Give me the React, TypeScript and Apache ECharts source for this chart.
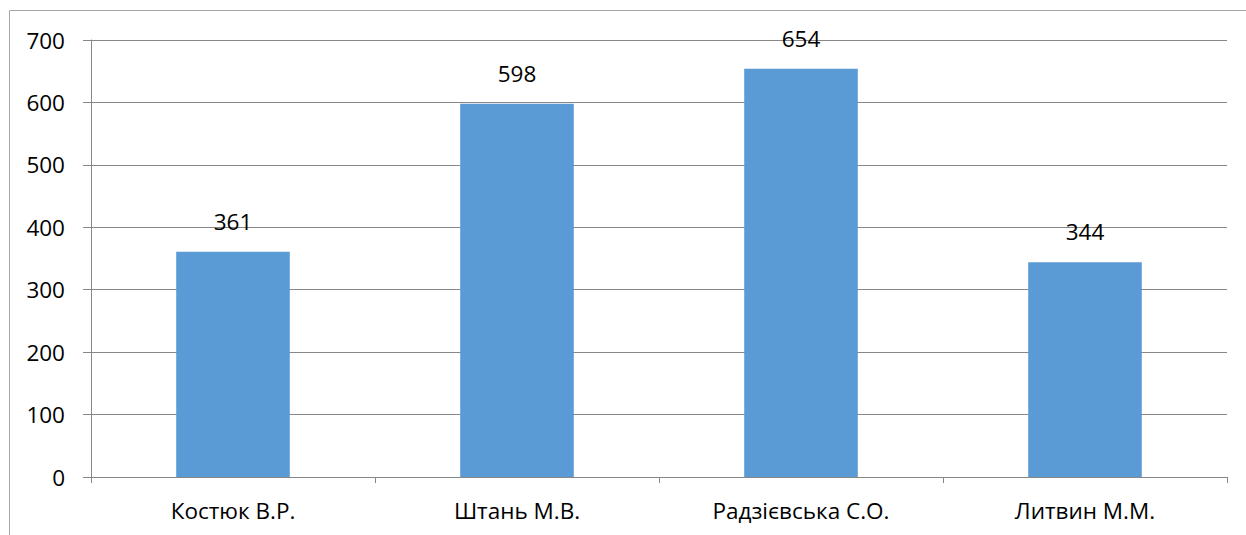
import React, { useEffect, useRef } from "react";
import * as echarts from "echarts";

const categories = ["Костюк В.Р.", "Штань М.В.", "Радзієвська С.О.", "Литвин М.М."];
const values = [361, 598, 654, 344];
const yTicks = { min: 0, max: 700, interval: 100 };

const FONT = "Open Sans";
const FS = 22.5;

export default function App() {
  const ref = useRef<HTMLDivElement>(null);
  useEffect(() => {
    const chart = echarts.init(ref.current!, null, { renderer: "svg" });
    chart.setOption({
      animation: false,
      backgroundColor: "#ffffff",
      grid: { left: 91, right: 19, top: 40, bottom: 58, containLabel: false },
      graphic: [
        {
          type: "rect",
          silent: true,
          shape: { x: 9.5, y: 10.5, width: 1400, height: 700 },
          style: { fill: "none", stroke: "#a6a6a6", lineWidth: 1 },
          z: -1,
        },
      ],
      xAxis: {
        type: "category",
        data: categories,
        boundaryGap: true,
        axisLine: { show: true, lineStyle: { color: "#878787", width: 1 } },
        axisTick: { show: true, alignWithLabel: false, length: 6, lineStyle: { color: "#878787" } },
        axisLabel: { color: "#000", fontFamily: FONT, fontSize: FS, margin: 22 },
        splitLine: { show: false },
      },
      yAxis: {
        type: "value",
        min: yTicks.min,
        max: yTicks.max,
        interval: yTicks.interval,
        axisLine: { show: true, lineStyle: { color: "#878787", width: 1 } },
        axisTick: { show: true, length: 8, lineStyle: { color: "#878787" } },
        axisLabel: { color: "#000", fontFamily: FONT, fontSize: FS, margin: 26 },
        splitLine: { show: true, lineStyle: { color: "#878787", width: 1 } },
      },
      series: [
        {
          type: "bar",
          data: values,
          barWidth: "40%",
          itemStyle: { color: "#5B9BD5" },
          label: {
            show: true,
            position: "top",
            distance: 19,
            color: "#000",
            fontFamily: FONT,
            fontSize: FS,
          },
        },
      ],
    });
    return () => chart.dispose();
  }, []);
  return (
    <div
      ref={ref}
      style={{ position: "absolute", left: 0, top: 0, width: 1246, height: 535 }}
    />
  );
}
